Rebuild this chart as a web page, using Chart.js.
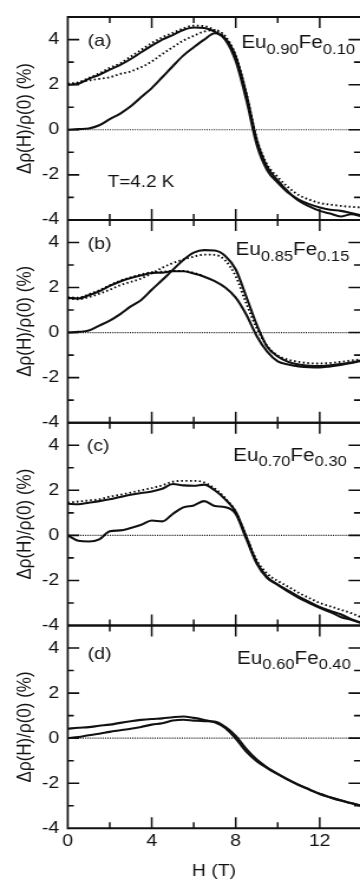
<!DOCTYPE html>
<html>
<head>
<meta charset="utf-8">
<title>Eu-Fe magnetoresistance at 4.2 K</title>
<script src="https://cdn.jsdelivr.net/npm/chart.js@4.4.1/dist/chart.umd.min.js"></script>
<style>
  html, body { margin: 0; padding: 0; background: #fff; overflow: hidden; }
</style>
</head>
<body>
<!-- the figure is wider than it is tall in its lettering, so the canvas is drawn
     305 px wide and stretched to 360 px with an inline style -->
<canvas id="chart" width="305" height="882" style="display:block;width:360px;height:882px"></canvas>
<script>
// ============================================
// DATA
// ============================================

// field grid (T) shared by every sweep
const fieldT = [0, 0.5, 1, 1.5, 2, 2.5, 3, 3.5, 4, 4.5, 5, 5.5, 6, 6.5, 7,
                7.5, 8, 8.5, 9, 9.5, 10, 10.5, 11, 11.5, 12, 12.5, 13, 13.5, 14];

// tick values
const xTickLabels = [0, 4, 8, 12];
const xMinorTicks = [2, 6, 10];
const yTickLabels = [-4, -2, 0, 2, 4];
const yMinorTicks = [-3, -1, 1, 3];

// (a) Eu0.90Fe0.10  - delta rho / rho(0) in %
const virginA  = [0, 0.03, 0.06, 0.2, 0.47, 0.72, 1.04, 1.45, 1.85, 2.33, 2.82, 3.29, 3.66, 4.0, 4.28,
                  4.05, 3.25, 1.6, -0.45, -1.65, -2.25, -2.75, -3.15, -3.4, -3.6, -3.72, -3.85, -3.75, -3.85];
const returnA  = [2.0, 2.04, 2.26, 2.44, 2.67, 2.88, 3.14, 3.44, 3.73, 4.0, 4.2, 4.43, 4.54, 4.52, 4.35,
                  4.0, 3.05, 1.35, -0.65, -1.8, -2.35, -2.8, -3.1, -3.3, -3.45, -3.55, -3.6, -3.7, -3.8];
const dotUpA   = [2.0, 2.09, 2.19, 2.26, 2.33, 2.48, 2.59, 2.78, 3.03, 3.36, 3.66, 3.96, 4.17, 4.36, 4.42,
                  4.15, 3.3, 1.65, -0.4, -1.55, -2.1, -2.55, -2.9, -3.1, -3.25, -3.32, -3.38, -3.42, -3.45];
const dotDownA = [2.05, 2.1, 2.3, 2.5, 2.75, 2.95, 3.25, 3.55, 3.85, 4.1, 4.3, 4.5, 4.62, 4.6, 4.42,
                  4.15, null, null, null, null, null, null, null, null, null, null, null, null, null];

// (b) Eu0.85Fe0.15
const virginB  = [0, 0.03, 0.09, 0.31, 0.53, 0.82, 1.16, 1.45, 1.9, 2.33, 2.78, 3.22, 3.55, 3.66, 3.64,
                  3.4, 2.8, 1.6, 0.35, -0.63, -1.06, -1.3, -1.42, -1.48, -1.49, -1.45, -1.4, -1.33, -1.23];
const returnB  = [1.54, 1.51, 1.66, 1.83, 2.07, 2.27, 2.42, 2.54, 2.64, 2.66, 2.72, 2.72, 2.62, 2.48, 2.28,
                  2.0, 1.55, 0.8, -0.15, -0.85, -1.28, -1.42, -1.5, -1.54, -1.55, -1.5, -1.44, -1.35, -1.25];
const dotUpB   = [1.52, 1.48, 1.57, 1.72, 1.9, 2.1, 2.25, 2.4, 2.62, 2.88, 3.08, 3.24, 3.37, 3.46, 3.45,
                  3.2, 2.5, 1.3, 0.2, -0.6, -1.02, -1.2, -1.3, -1.36, -1.37, -1.35, -1.3, -1.24, -1.18];
const dotDownB = [1.56, 1.55, 1.7, 1.88, 2.1, 2.3, 2.45, 2.58, 2.68, 2.7, 2.74, 2.74, 2.65, 2.5, null,
                  null, null, null, null, null, null, null, null, null, null, null, null, null, null];

// (c) Eu0.70Fe0.30
const virginC  = [0, -0.24, -0.27, -0.18, 0.18, 0.22, 0.33, 0.47, 0.66, 0.62, 0.95, 1.24, 1.33, 1.52, 1.3,
                  1.25, 0.95, -0.15, -1.25, -1.9, -2.2, -2.5, -2.77, -3.0, -3.22, -3.4, -3.62, -3.75, -3.9];
const returnC  = [1.4, 1.38, 1.45, 1.52, 1.6, 1.7, 1.8, 1.88, 1.95, 2.07, 2.28, 2.22, 2.2, 2.25, 2.0,
                  1.6, 1.05, -0.05, -1.2, -1.85, -2.18, -2.45, -2.72, -2.95, -3.18, -3.35, -3.5, -3.72, -3.88];
const dotC     = [1.45, 1.5, 1.55, 1.6, 1.72, 1.8, 1.9, 2.0, 2.1, 2.22, 2.38, 2.42, 2.42, 2.35, 2.08,
                  1.65, 1.05, -0.05, -1.1, -1.7, -2.02, -2.28, -2.55, -2.78, -3.0, -3.15, -3.3, -3.45, -3.65];

// (d) Eu0.60Fe0.40
const virginD  = [0, 0.05, 0.13, 0.2, 0.28, 0.35, 0.42, 0.5, 0.6, 0.66, 0.78, 0.82, 0.78, 0.75, 0.74,
                  0.5, 0.1, -0.48, -0.95, -1.3, -1.58, -1.84, -2.07, -2.27, -2.47, -2.62, -2.76, -2.88, -3.0];
const returnD  = [0.42, 0.46, 0.49, 0.55, 0.6, 0.68, 0.75, 0.81, 0.85, 0.88, 0.93, 0.96, 0.9, 0.81, 0.7,
                  0.45, -0.02, -0.6, -1.02, -1.33, -1.6, -1.85, -2.08, -2.28, -2.48, -2.63, -2.77, -2.89, -3.01];

// ============================================
// PANEL SETUP
// ============================================

const FONT = "'Liberation Sans', Arial, Helvetica, sans-serif";
const INK = '#111';

// one entry per panel, top to bottom; tag/name positions are in data units
const panels = [
  { key: 'y0', tag: '(a)', eu: '0.90', fe: '0.10', solid: [virginA, returnA], dotted: [dotUpA, dotDownA],
    tagAt: [0.95, 3.93], nameAt: [13.68, 3.61] },
  { key: 'y1', tag: '(b)', eu: '0.85', fe: '0.15', solid: [virginB, returnB], dotted: [dotUpB, dotDownB],
    tagAt: [0.95, 3.92], nameAt: [13.41, 3.44] },
  { key: 'y2', tag: '(c)', eu: '0.70', fe: '0.30', solid: [virginC, returnC], dotted: [dotC],
    tagAt: [0.9, 3.96], nameAt: [13.29, 3.32] },
  { key: 'y3', tag: '(d)', eu: '0.60', fe: '0.40', solid: [virginD, returnD], dotted: [],
    tagAt: [0.95, 3.73], nameAt: [13.48, 3.3] }
];

const toPoints = arr => fieldT.map((h, i) => ({ x: h, y: arr[i] }));

const datasets = [];
panels.forEach(p => {
  // dotted zero line
  datasets.push({
    data: [{ x: fieldT[0], y: 0 }, { x: fieldT[fieldT.length - 1], y: 0 }],
    yAxisID: p.key, borderColor: INK, borderWidth: 1.2, borderDash: [1, 1.1],
    pointRadius: 0
  });
  p.dotted.forEach(arr => datasets.push({
    data: toPoints(arr), yAxisID: p.key,
    borderColor: '#000', borderWidth: 1.9, borderDash: [1.5, 2.3],
    pointRadius: 0, cubicInterpolationMode: 'monotone'
  }));
  p.solid.forEach(arr => datasets.push({
    data: toPoints(arr), yAxisID: p.key,
    borderColor: INK, borderWidth: 2.1,
    pointRadius: 0, cubicInterpolationMode: 'monotone'
  }));
});

// y axes are stacked in one column; higher weight sits higher
const scales = {
  x: {
    type: 'linear', position: 'bottom', min: 0, max: 13.92,
    afterBuildTicks: s => { s.ticks = xTickLabels.map(v => ({ value: v })); },
    afterFit: s => { s.height = 53.7; },
    grid: { display: false, drawTicks: false },
    border: { display: false },
    ticks: { color: INK, font: { family: FONT, size: 16.5 }, padding: 3, maxRotation: 0, autoSkip: false },
    title: { display: true, text: 'H (T)', color: INK, font: { family: FONT, size: 16.5 },
             padding: { top: 0, bottom: 1 } }
  }
};
panels.forEach((p, i) => {
  scales[p.key] = {
    type: 'linear', position: 'left', stack: 'panels', stackWeight: 1,
    weight: panels.length - i,
    min: -4, max: 5,
    afterBuildTicks: s => { s.ticks = yTickLabels.map(v => ({ value: v })); },
    afterFit: s => { s.width = 57.4; },
    grid: { display: false, drawTicks: false },
    border: { display: false },
    ticks: { color: INK, font: { family: FONT, size: 16.5 }, padding: 7.2, callback: v => String(v) },
    title: { display: true, text: 'Δρ(H)/ρ(0) (%)', color: INK, font: { family: FONT, size: 17 },
             padding: { top: 11.5, bottom: 0 } }
  };
});

// ============================================
// FRAME, TICKS AND LABELS
// ============================================

function drawAlloy(ctx, xRight, yBase, eu, fe) {
  const parts = [['Eu', false], [eu, true], ['Fe', false], [fe, true]];
  const big = '17.5px ' + FONT, small = '14px ' + FONT;
  let total = 0;
  parts.forEach(([t, sub]) => { ctx.font = sub ? small : big; total += ctx.measureText(t).width; });
  let x = xRight - total;
  parts.forEach(([t, sub]) => {
    ctx.font = sub ? small : big;
    ctx.fillText(t, x, yBase + (sub ? 5.5 : 0));
    x += ctx.measureText(t).width;
  });
}

const framePlugin = {
  id: 'frame',
  afterDatasetsDraw(chart) {
    const { ctx, chartArea, scales: sc } = chart;
    const xs = sc.x;
    const left = chartArea.left, right = chartArea.right;
    ctx.save();
    ctx.strokeStyle = INK;

    // left border
    ctx.lineWidth = 1.7;
    ctx.beginPath();
    ctx.moveTo(left, chartArea.top - 1);
    ctx.lineTo(left, chartArea.bottom + 1);
    ctx.stroke();

    panels.forEach(p => {
      const ys = sc[p.key];
      const top = ys.getPixelForValue(ys.max), bottom = ys.getPixelForValue(ys.min);

      // panel edges
      ctx.lineWidth = 2;
      ctx.beginPath();
      ctx.moveTo(left, top); ctx.lineTo(right + 2, top);
      ctx.moveTo(left, bottom); ctx.lineTo(right + 2, bottom);
      ctx.stroke();

      // field ticks pointing in from top and bottom edges
      ctx.lineWidth = 1.5;
      ctx.beginPath();
      [[xTickLabels, 11], [xMinorTicks, 6]].forEach(([vals, len]) => {
        vals.forEach(h => {
          if (h <= xs.min) return;
          const px = xs.getPixelForValue(h);
          ctx.moveTo(px, top); ctx.lineTo(px, top + len);
          ctx.moveTo(px, bottom); ctx.lineTo(px, bottom - len);
        });
      });
      ctx.stroke();

      // value ticks on the left and right edges
      ctx.lineWidth = 1.6;
      ctx.beginPath();
      [[yTickLabels, 9.7], [yMinorTicks, 5.1]].forEach(([vals, len]) => {
        vals.forEach(v => {
          if (v <= ys.min || v >= ys.max) return;
          const py = ys.getPixelForValue(v);
          ctx.moveTo(left, py); ctx.lineTo(left + len, py);
          ctx.moveTo(right, py); ctx.lineTo(right - len, py);
        });
      });
      ctx.stroke();

      // panel tag and alloy name
      ctx.fillStyle = INK;
      ctx.font = '16.5px ' + FONT;
      ctx.textAlign = 'left';
      ctx.textBaseline = 'middle';
      ctx.fillText(p.tag, xs.getPixelForValue(p.tagAt[0]), ys.getPixelForValue(p.tagAt[1]));
      ctx.textBaseline = 'alphabetic';
      drawAlloy(ctx, xs.getPixelForValue(p.nameAt[0]), ys.getPixelForValue(p.nameAt[1]), p.eu, p.fe);
    });

    // temperature note in panel (a)
    ctx.font = '16px ' + FONT;
    ctx.fillText('T=4.2 K', xs.getPixelForValue(1.9), sc.y0.getPixelForValue(-2.55));
    ctx.restore();
  }
};

// ============================================
// CHART
// ============================================

new Chart(document.getElementById('chart'), {
  type: 'line',
  data: { datasets },
  options: {
    responsive: false,
    animation: false,
    devicePixelRatio: 1,
    events: [],
    layout: { padding: { top: 9, right: 0, bottom: 0, left: 0 } },
    plugins: { legend: { display: false }, tooltip: { enabled: false } },
    scales
  },
  plugins: [framePlugin]
});
</script>
</body>
</html>
